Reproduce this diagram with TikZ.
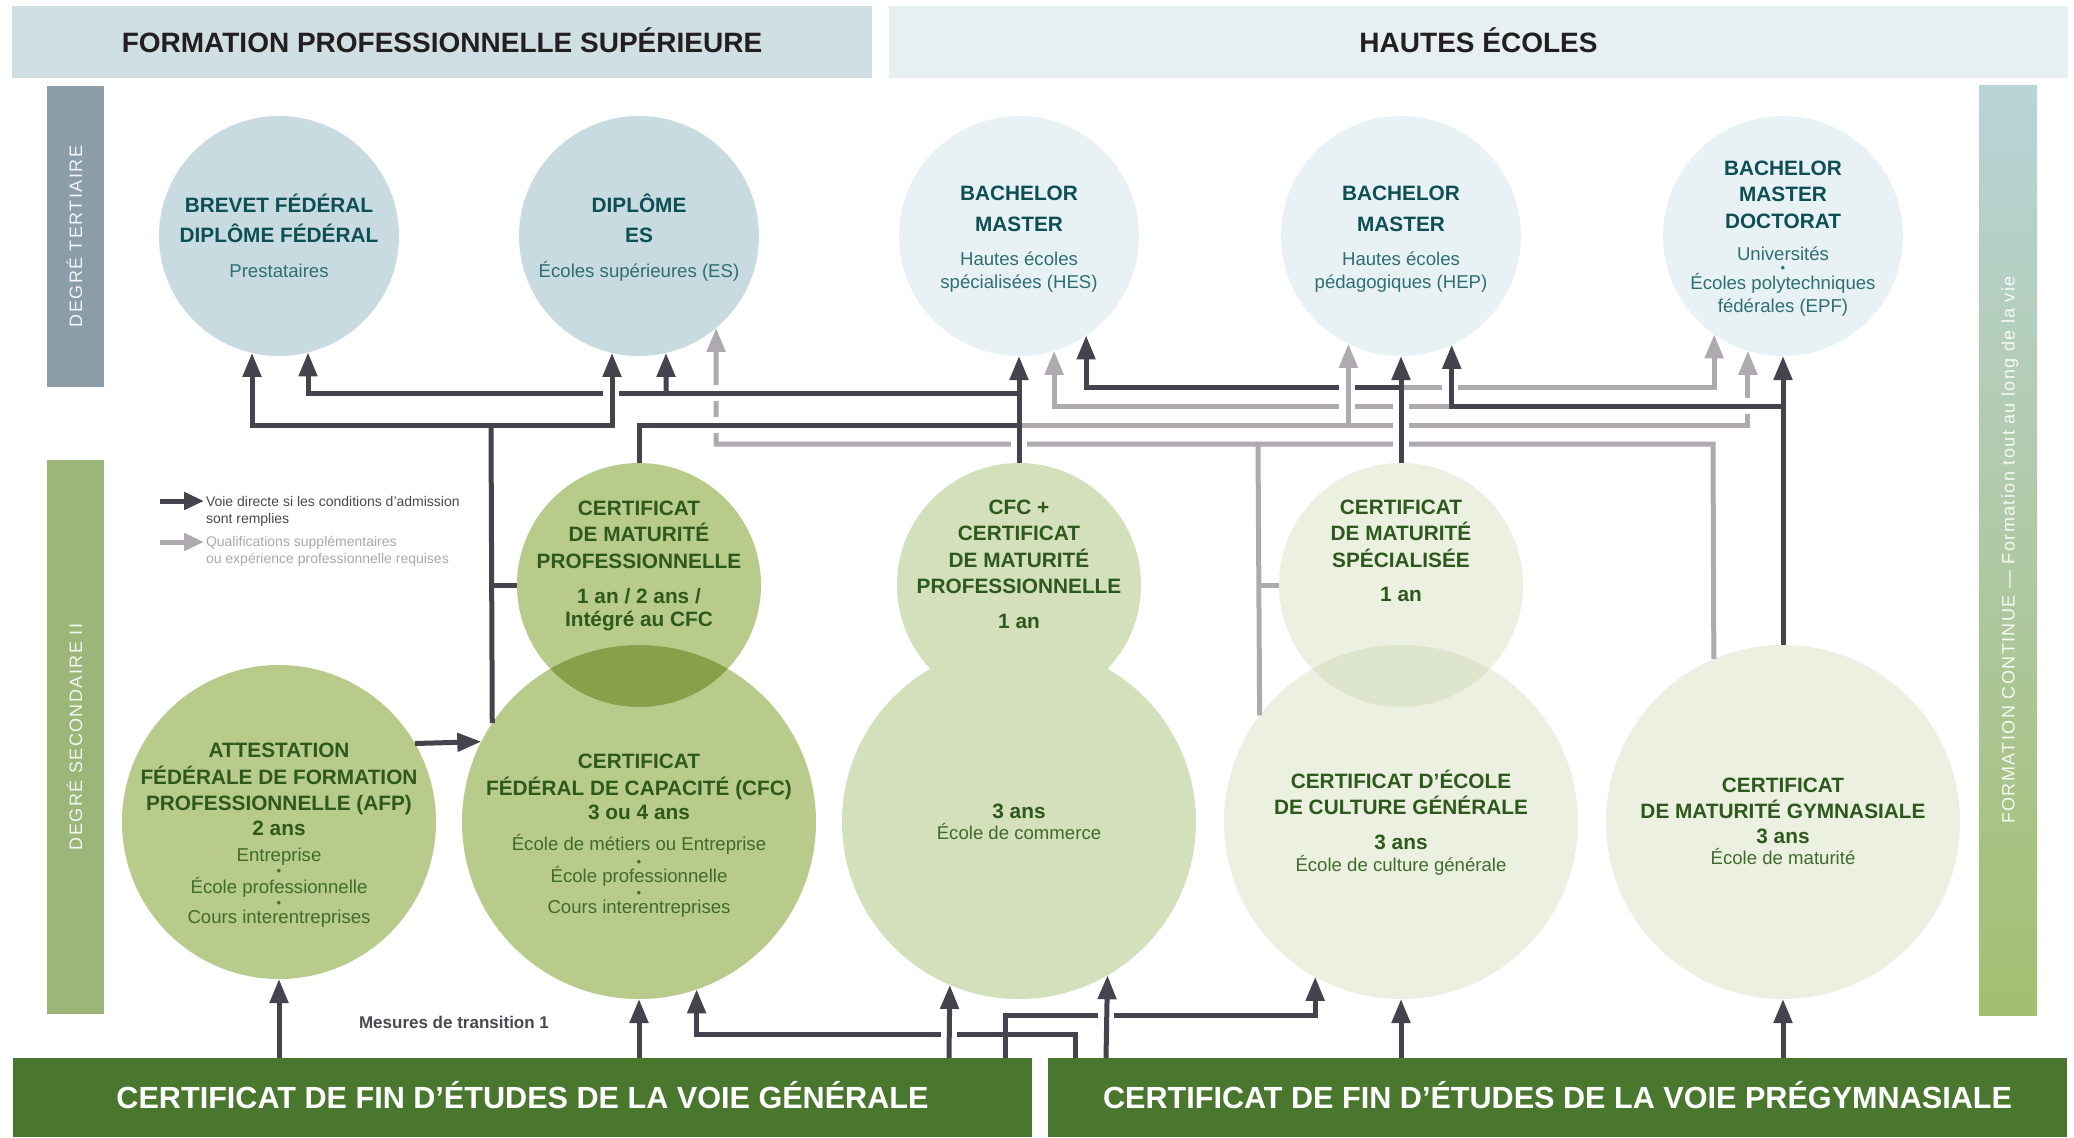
\documentclass[tikz,border=0pt]{standalone}
\usepackage{fontspec}
\setmainfont{Liberation Sans}
\newfontfamily\spacedfont[LetterSpace=8]{Liberation Sans}
\usetikzlibrary{arrows.meta}
\definecolor{dkc}{HTML}{45434E}
\definecolor{gyc}{HTML}{AFAAB0}
\definecolor{hdrA}{HTML}{CFDFE4}
\definecolor{hdrB}{HTML}{E7EFF1}
\definecolor{tertc}{HTML}{8A9DA8}
\definecolor{secoc}{HTML}{9CB67A}
\definecolor{contA}{HTML}{BAD3D8}
\definecolor{contB}{HTML}{A3BF70}
\definecolor{bandg}{HTML}{4A772E}
\definecolor{tblue}{HTML}{C8DBE1}
\definecolor{tpale}{HTML}{E8F1F3}
\definecolor{gmid}{HTML}{B8CB8B}
\definecolor{gmidd}{HTML}{86A14A}
\definecolor{glight}{HTML}{D4DFBB}
\definecolor{gpale}{HTML}{EBF0E1}
\definecolor{gpaled}{HTML}{DDE5CD}
\definecolor{hdtext}{HTML}{231F20}
\definecolor{tealdk}{HTML}{0D4F55}
\definecolor{tealsub}{HTML}{2F6E72}
\definecolor{grdk}{HTML}{2D5A1C}
\definecolor{grsub}{HTML}{3F6B2C}
\definecolor{lgdark}{HTML}{4A4850}
\definecolor{lggray}{HTML}{ABA7AC}
\begin{document}
\begin{tikzpicture}[x=0.5pt,y=-0.5pt,
  band/.style={rectangle, inner sep=0pt, outer sep=0pt, draw=none},
  circ/.style={circle, inner sep=0pt, outer sep=0pt, draw=none, minimum size=#1},
  dkl/.style={draw=dkc, line width=2.5pt},
  gyl/.style={draw=gyc, line width=2.5pt},
  tip/.style={-{Triangle[width=9pt,length=12pt]}},
  gap/.style={draw=white, line width=8pt},
  ln/.style={inner sep=0pt, outer sep=0pt, text depth=0pt},
  tt/.style={ln, text height=7.45pt, font=\bfseries\fontsize{10.4}{12}\selectfont, text=tealdk},
  ts/.style={ln, text height=6.66pt, font=\fontsize{9.3}{11}\selectfont, text=tealsub},
  tb/.style={ln, text height=5.2pt, font=\fontsize{6.5}{7}\selectfont, text=tealsub},
  gt/.style={ln, text height=7.45pt, font=\bfseries\fontsize{10.4}{12}\selectfont, text=grdk},
  gs/.style={ln, text height=6.66pt, font=\fontsize{9.3}{11}\selectfont, text=grsub},
  gb/.style={ln, text height=5.2pt, font=\fontsize{6.5}{7}\selectfont, text=grsub},
  side/.style={ln, rotate=90, text height=6.5pt, font=\spacedfont\fontsize{9}{10}\selectfont, text=white, text opacity=0.9},
  lgt/.style={ln, anchor=west, text height=5pt, font=\fontsize{7}{8}\selectfont}
]
\useasboundingbox (0,0) rectangle (2074,1137);
\fill[white] (0,0) rectangle (2074,1137);

% ---------- bands
\node[band, fill=hdrA, minimum width=430pt, minimum height=36pt, anchor=north west,
      text height=10pt, text depth=0pt, font=\bfseries\fontsize{14}{16}\selectfont, text=hdtext]
      (hdr1) at (12,6) {FORMATION PROFESSIONNELLE SUPÉRIEURE};
\node[band, fill=hdrB, minimum width=589.5pt, minimum height=36pt, anchor=north west,
      text height=10pt, text depth=0pt, font=\bfseries\fontsize{14}{16}\selectfont, text=hdtext]
      (hdr2) at (889,6) {HAUTES ÉCOLES};
\node[band, fill=tertc, minimum width=28.5pt, minimum height=150.5pt, anchor=north west] (tert) at (47,86) {};
\node[side] (tert-t) at (tert.center) {DEGRÉ TERTIAIRE};
\node[band, fill=secoc, minimum width=28.5pt, minimum height=277pt, anchor=north west] (seco) at (47,460) {};
\node[side] (seco-t) at (seco.center) {DEGRÉ SECONDAIRE II};
\node[band, top color=contA, bottom color=contB, minimum width=29pt, minimum height=465pt, anchor=north west] (cont) at (1979,85) {};
\node[side] (cont-t) at (cont.center) {FORMATION CONTINUE — Formation tout au long de la vie};
\node[band, fill=bandg, minimum width=509.5pt, minimum height=39.5pt, anchor=north west,
      text height=10.95pt, text depth=0pt, font=\bfseries\fontsize{15.3}{17}\selectfont, text=white]
      (b1) at (13,1058) {CERTIFICAT DE FIN D’ÉTUDES DE LA VOIE GÉNÉRALE};
\node[band, fill=bandg, minimum width=509.5pt, minimum height=39.5pt, anchor=north west,
      text height=10.95pt, text depth=0pt, font=\bfseries\fontsize{15.3}{17}\selectfont, text=white]
      (b2) at (1048,1058) {CERTIFICAT DE FIN D’ÉTUDES DE LA VOIE PRÉGYMNASIALE};

% ---------- circles
\node[circ=120pt, fill=tblue] (brev) at (279,236) {};
\node[circ=120pt, fill=tblue] (es) at (639,236) {};
\node[circ=120pt, fill=tpale] (hes) at (1019,236) {};
\node[circ=120pt, fill=tpale] (hep) at (1401,236) {};
\node[circ=120pt, fill=tpale] (uni) at (1783,236) {};

\node[circ=157pt, fill=gmid] (afp) at (279,822) {};
\node[circ=177pt, fill=gmid] (cfc) at (639,822) {};
\node[circ=122pt, fill=gmid] (cmp) at (639,585) {};
\begin{scope}
  \clip (cmp.center) circle[radius=61pt];
  \fill[gmidd] (cfc.center) circle[radius=88.5pt];
\end{scope}
\node[circ=122pt, fill=glight] (cfcm) at (1019,585) {};
\node[circ=177pt, fill=glight] (com) at (1019,822) {};
\node[circ=122pt, fill=gpale] (cms) at (1401,585) {};
\node[circ=177pt, fill=gpale] (ecg) at (1401,822) {};
\begin{scope}
  \clip (cms.center) circle[radius=61pt];
  \fill[gpaled] (ecg.center) circle[radius=88.5pt];
\end{scope}
\node[circ=177pt, fill=gpale] (gym) at (1783,822) {};

% ---------- connectors, upper part
% grey network ECG / CMS / gymnase -> ES
\draw[gyl] (ecg.143.9) -- (1258,444) -- (1713,444) -- (gym.113.3);
\draw[gyl] (cms.west) -- (1258,585);
\draw[gyl, tip] (1258,444) -- (716,444) -- (es.-50);
\draw[gap] (710,393) -- (722,393);
\draw[gap] (710,425) -- (722,425);
\draw[gap] (1019,438) -- (1019,450);
% gymnase -> HES (grey), CMS -> HES (dark), CMS -> universites (grey)
\draw[gyl, tip] (1450,406) -| (hes.-73.5);
\draw[dkl, tip] (1401,387) -| (hes.-56);
\draw[gyl, tip] (1401,387) -| (uni.-125.7);
\draw[gap] (1347,381) -- (1347,412);
% CFC + maturite -> HEP, universites (grey)
\draw[gyl, tip] (1019,425) -| (hep.-116.7);
\draw[gyl, tip] (1347,425) -| (uni.-107.5);
\draw[gap] (1741,406) -- (1753,406);
\draw[gap] (1450,381) -- (1450,393);
\draw[gap] (1401,400) -- (1401,450);
% gymnase -> universites, HEP (dark)
\draw[dkl, tip] (gym.north) -- (uni.south);
\draw[dkl, tip] (1783,406) -| (hep.-65.9);
% CMS -> HEP
\draw[dkl, tip] (cms.north) -- (hep.south);
% CFC + maturite -> brevet, ES (dark)
\draw[dkl, tip] (1019,393) -| (brev.-76);
\draw[dkl, tip] (666,393) -- (es.-77);
% maturite professionnelle -> HES
\draw[dkl] (cmp.north) |- (1019,425);
\draw[gap] (611,387) -- (611,399);
% CFC -> brevet, ES
\draw[dkl] (cfc.146.7) -- (491,425);
\draw[dkl, tip] (491,425) -| (brev.-103);
\draw[dkl, tip] (491,425) -| (es.-103.5);
\draw[dkl] (cmp.west) -- (491,585);
% CFC + maturite -> HES
\draw[dkl, tip] (cfcm.north) -- (hes.south);
% AFP -> CFC
\draw[dkl, tip] (afp.30.6) -- (cfc.153.1);

% ---------- connectors, lower part
\draw[dkl, tip] (afp.south |- b1.north) -- (afp.south);
\draw[dkl, tip] (cfc.south |- b1.north) -- (cfc.south);
\draw[dkl, tip] (1075,0 |- b2.north) -- (1075,1034) -| (cfc.-71.9);
\draw[dkl, tip] (1005,0 |- b1.north) -- (1005,1015) -| (ecg.-119.4);
\draw[gap] (949,1028) -- (949,1040);
\draw[gap] (1106,1009) -- (1106,1021);
\draw[dkl, tip] (949,0 |- b1.north) -- (com.-113.3);
\draw[dkl, tip] (1106,0 |- b2.north) -- (com.-60.6);
\draw[dkl, tip] (ecg.south |- b2.north) -- (ecg.south);
\draw[dkl, tip] (gym.south |- b2.north) -- (gym.south);
\node[ln, text height=6.1pt, font=\bfseries\fontsize{8.5}{10}\selectfont, text=lgdark] (mesures) at (454,1022) {Mesures de transition 1};

% ---------- legend
\coordinate (lg1a) at (160,501); \coordinate (lg1b) at (204,501);
\coordinate (lg2a) at (160,542); \coordinate (lg2b) at (204,542);
\draw[dkc, line width=2.5pt, -{Triangle[width=8.5pt,length=10pt]}] (lg1a) -- (lg1b);
\draw[gyc, line width=2.5pt, -{Triangle[width=8.5pt,length=10pt]}] (lg2a) -- (lg2b);
\node[lgt, text=lgdark] (lg1t) at (206,501) {Voie directe si les conditions d’admission};
\node[lgt, text=lgdark] (lg1u) at (206,518) {sont remplies};
\node[lgt, text=lggray] (lg2t) at (206,541) {Qualifications supplémentaires};
\node[lgt, text=lggray] (lg2u) at (206,558) {ou expérience professionnelle requises};

% ---------- circle texts
\foreach \y/\s/\t [count=\i] in {205/tt/{BREVET FÉDÉRAL},235/tt/{DIPLÔME FÉDÉRAL},271/ts/Prestataires}
  \node[\s] (brev-t\i) at (279,\y) {\t};
\foreach \y/\s/\t [count=\i] in {205/tt/DIPLÔME,235/tt/ES,271/ts/{Écoles supérieures (ES)}}
  \node[\s] (es-t\i) at (639,\y) {\t};
\foreach \y/\s/\t [count=\i] in {193/tt/BACHELOR,224/tt/MASTER,259/ts/{Hautes écoles},282/ts/{spécialisées (HES)}}
  \node[\s] (hes-t\i) at (1019,\y) {\t};
\foreach \y/\s/\t [count=\i] in {193/tt/BACHELOR,224/tt/MASTER,259/ts/{Hautes écoles},282/ts/{pédagogiques (HEP)}}
  \node[\s] (hep-t\i) at (1401,\y) {\t};
\foreach \y/\s/\t [count=\i] in {168/tt/BACHELOR,194/tt/MASTER,221/tt/DOCTORAT,254/ts/Universités,267/tb/•,283/ts/{Écoles polytechniques},306/ts/{fédérales (EPF)}}
  \node[\s] (uni-t\i) at (1783,\y) {\t};
\foreach \y/\s/\t [count=\i] in {508/gt/CERTIFICAT,534/gt/{DE MATURITÉ},561/gt/PROFESSIONNELLE,596/gt/{1 an / 2 ans /},619/gt/{Intégré au CFC}}
  \node[\s] (cmp-t\i) at (639,\y) {\t};
\foreach \y/\s/\t [count=\i] in {750/gt/ATTESTATION,777/gt/{FÉDÉRALE DE FORMATION},803/gt/{PROFESSIONNELLE (AFP)},828/gt/{2 ans},855/gs/Entreprise,870/gb/•,887/gs/{École professionnelle},902/gb/•,917/gs/{Cours interentreprises}}
  \node[\s] (afp-t\i) at (279,\y) {\t};
\foreach \y/\s/\t [count=\i] in {761/gt/CERTIFICAT,788/gt/{FÉDÉRAL DE CAPACITÉ (CFC)},812/gt/{3 ou 4 ans},844/gs/{École de métiers ou Entreprise},861/gb/•,876/gs/{École professionnelle},892/gb/•,907/gs/{Cours interentreprises}}
  \node[\s] (cfc-t\i) at (639,\y) {\t};
\foreach \y/\s/\t [count=\i] in {507/gt/{CFC +},533/gt/CERTIFICAT,560/gt/{DE MATURITÉ},586/gt/PROFESSIONNELLE,621/gt/{1 an}}
  \node[\s] (cfcm-t\i) at (1019,\y) {\t};
\foreach \y/\s/\t [count=\i] in {811/gt/{3 ans},833/gs/{École de commerce}}
  \node[\s] (com-t\i) at (1019,\y) {\t};
\foreach \y/\s/\t [count=\i] in {507/gt/CERTIFICAT,533/gt/{DE MATURITÉ},560/gt/SPÉCIALISÉE,594/gt/{1 an}}
  \node[\s] (cms-t\i) at (1401,\y) {\t};
\foreach \y/\s/\t [count=\i] in {781/gt/{CERTIFICAT D’ÉCOLE},807/gt/{DE CULTURE GÉNÉRALE},842/gt/{3 ans},865/gs/{École de culture générale}}
  \node[\s] (ecg-t\i) at (1401,\y) {\t};
\foreach \y/\s/\t [count=\i] in {785/gt/CERTIFICAT,811/gt/{DE MATURITÉ GYMNASIALE},836/gt/{3 ans},858/gs/{École de maturité}}
  \node[\s] (gym-t\i) at (1783,\y) {\t};
\end{tikzpicture}
\end{document}
